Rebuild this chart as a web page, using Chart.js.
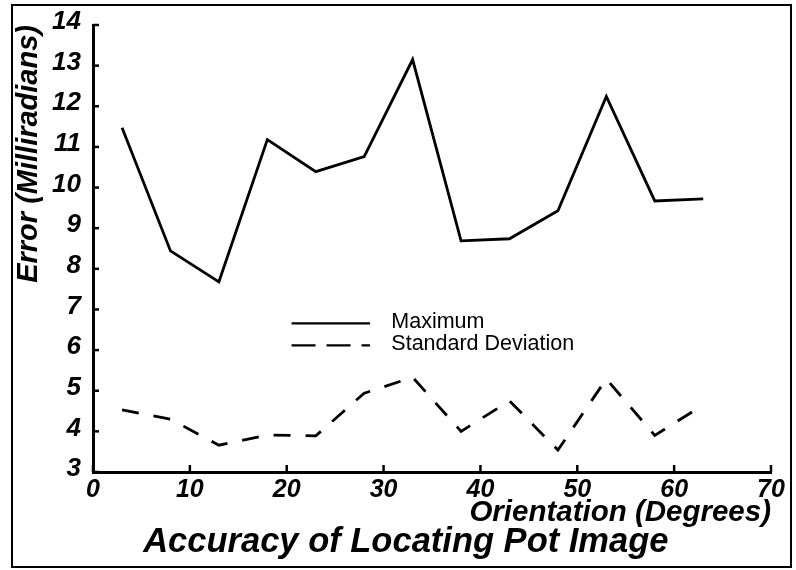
<!DOCTYPE html>
<html>
<head>
<meta charset="utf-8">
<script src="https://cdn.jsdelivr.net/npm/chart.js@4.4.1/dist/chart.umd.min.js"></script>
<style>
  html, body { margin: 0; padding: 0; background: #fff; }
  #wrap { width: 796px; height: 570px; }
</style>
</head>
<body>
<div id="wrap"><canvas id="c" width="796" height="570"></canvas></div>
<script>
// ---- data ----
const orientation = [3, 8, 13, 18, 23, 28, 33, 38, 43, 48, 53, 58, 63];
const maximumError = [11.47, 8.44, 7.68, 11.18, 10.39, 10.76, 13.15, 8.69, 8.74, 9.43, 12.24, 9.67, 9.72];
const stdDeviation = [4.53, 4.30, 3.66, 3.91, 3.89, 4.94, 5.33, 4.00, 4.75, 3.54, 5.29, 3.90, 4.65];
const seriesLabels = ['Maximum', 'Standard Deviation'];
const xTickValues = [0, 10, 20, 30, 40, 50, 60, 70];
const yTickValues = [3, 4, 5, 6, 7, 8, 9, 10, 11, 12, 13, 14];
const chartTitle = 'Accuracy of Locating Pot Image';
const xTitle = 'Orientation (Degrees)';
const yTitle = 'Error (Milliradians)';

const FONT = "'Liberation Sans', Arial, Helvetica, sans-serif";

const toPoints = (xs, ys) => xs.map((x, i) => ({ x, y: ys[i] }));

// white background + frame
const framePlugin = {
  id: 'frame',
  beforeDraw(chart) {
    const ctx = chart.ctx;
    ctx.save();
    ctx.fillStyle = '#fff';
    ctx.fillRect(0, 0, chart.width, chart.height);
    ctx.strokeStyle = '#000';
    ctx.lineWidth = 2;
    ctx.strokeRect(12, 5, chart.width - 17, chart.height - 8);
    ctx.restore();
  }
};

// inward tick marks drawn through the scales
const innerTicks = {
  id: 'innerTicks',
  afterDraw(chart) {
    const { ctx, scales: { x, y }, chartArea } = chart;
    ctx.save();
    ctx.strokeStyle = '#000';
    ctx.lineWidth = 2.5;
    xTickValues.forEach(v => {
      const px = x.getPixelForValue(v);
      ctx.beginPath();
      ctx.moveTo(px, chartArea.bottom);
      ctx.lineTo(px, chartArea.bottom - 7);
      ctx.stroke();
    });
    yTickValues.forEach(v => {
      const py = y.getPixelForValue(v);
      ctx.beginPath();
      ctx.moveTo(chartArea.left, py);
      ctx.lineTo(chartArea.left + 6, py);
      ctx.stroke();
    });
    ctx.restore();
  }
};

// legend inside the plot + main title below the axis title
const innerLegend = {
  id: 'innerLegend',
  afterDraw(chart) {
    const { ctx, scales: { x, y } } = chart;
    ctx.save();
    ctx.font = '21.5px ' + FONT;
    ctx.fillStyle = '#000';
    ctx.textBaseline = 'middle';
    ctx.textAlign = 'left';
    const x0 = x.getPixelForValue(20.5);
    const x1 = x.getPixelForValue(28.6);
    const tx = x.getPixelForValue(30.8);
    const rows = [y.getPixelForValue(6.68), y.getPixelForValue(6.14)];
    chart.data.datasets.forEach((ds, i) => {
      ctx.strokeStyle = '#000';
      ctx.lineWidth = 2.2;
      ctx.setLineDash(i === 0 ? [] : [24, 11]);
      ctx.beginPath();
      ctx.moveTo(x0, rows[i] + 1);
      ctx.lineTo(x1, rows[i] + 1);
      ctx.stroke();
      ctx.setLineDash([]);
      ctx.fillText(ds.label, tx, rows[i]);
    });
    // main title
    ctx.font = 'italic bold 34.5px ' + FONT;
    ctx.textAlign = 'center';
    ctx.textBaseline = 'middle';
    ctx.fillText(chartTitle, x.getPixelForValue(32.3), 542);
    ctx.restore();
  }
};

new Chart(document.getElementById('c'), {
  type: 'line',
  data: {
    datasets: [
      {
        label: seriesLabels[0],
        data: toPoints(orientation, maximumError),
        borderColor: '#000',
        borderWidth: 2.8,
        pointRadius: 0,
        tension: 0,
        fill: false
      },
      {
        label: seriesLabels[1],
        data: toPoints(orientation, stdDeviation),
        borderColor: '#000',
        borderWidth: 2.8,
        borderDash: [17, 15],
        pointRadius: 0,
        tension: 0,
        fill: false
      }
    ]
  },
  options: {
    responsive: false,
    animation: false,
    devicePixelRatio: 1,
    layout: { autoPadding: false, padding: { left: 0, right: 25, top: 25, bottom: 0 } },
    plugins: {
      legend: { display: false },
      tooltip: { enabled: false },
      title: { display: false }
    },
    scales: {
      x: {
        type: 'linear',
        min: 0,
        max: 70,
        afterFit(scale) { scale.height = 98; },
        afterBuildTicks(scale) { scale.ticks = xTickValues.map(v => ({ value: v })); },
        grid: { display: false },
        border: { display: true, color: '#000', width: 3 },
        ticks: {
          color: '#000',
          padding: -5,
          maxRotation: 0,
          font: { family: FONT, size: 25, weight: 'bold', style: 'italic' }
        },
        title: {
          display: true,
          text: xTitle,
          align: 'end',
          color: '#000',
          font: { family: FONT, size: 29.5, weight: 'bold', style: 'italic', lineHeight: 1 },
          padding: { top: 0, bottom: 42 }
        }
      },
      y: {
        type: 'linear',
        min: 3,
        max: 14,
        afterFit(scale) { scale.width = 93; },
        afterBuildTicks(scale) { scale.ticks = yTickValues.map(v => ({ value: v })); },
        grid: { display: false },
        border: { display: true, color: '#000', width: 3 },
        ticks: {
          color: '#000',
          padding: 4,
          labelOffset: -3,
          font: { family: FONT, size: 26, weight: 'bold', style: 'italic' }
        },
        title: {
          display: true,
          text: yTitle,
          align: 'end',
          color: '#000',
          font: { family: FONT, size: 29, weight: 'bold', style: 'italic', lineHeight: 1 },
          padding: { top: 14, bottom: 0 }
        }
      }
    }
  },
  plugins: [framePlugin, innerTicks, innerLegend]
});
</script>
</body>
</html>
